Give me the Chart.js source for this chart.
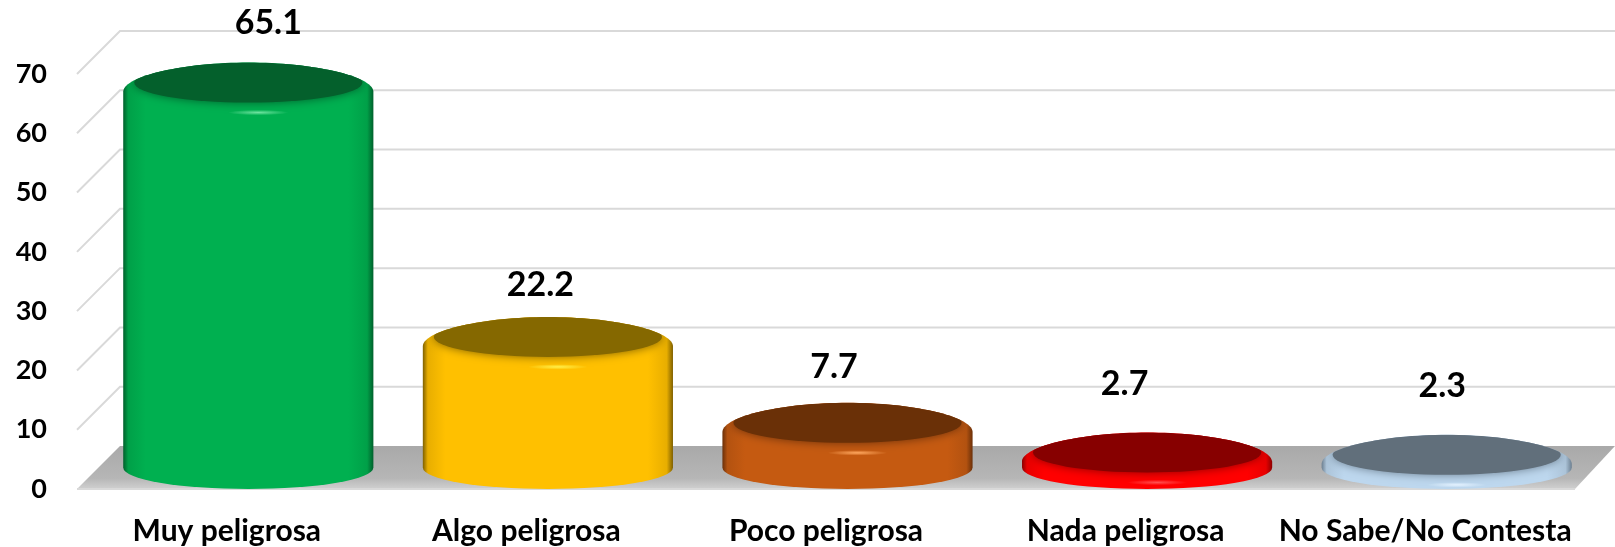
<!DOCTYPE html>
<html><head><meta charset="utf-8">
<style>html,body{margin:0;padding:0;background:#fff}canvas{display:block}</style>
<script src="https://cdn.jsdelivr.net/npm/chart.js@4/dist/chart.umd.min.js"></script>
</head><body><canvas id="c" width="1615" height="547"></canvas>
<script>
const categories = ["Muy peligrosa","Algo peligrosa","Poco peligrosa","Nada peligrosa","No Sabe/No Contesta"];
const values = [65.1,22.2,7.7,2.7,2.3];
const yTicks = [0,10,20,30,40,50,60,70];
const sideColors = ["#00B050","#FFC000","#C55A11","#FF0000","#BDD7EE"];
const topColors = ["#04602C","#856800","#6A3007","#870000","#616F7B"];
const edgeColors = ["#00602C","#7F6000","#6B3009","#8C0000","#6C7F90"];
const midColors = ["#00A048","#E8AE00","#B35210","#E80000","#ACC4D9"];
const glintColors = ["#6FE3A0","#FFF04A","#FFA860","#FF5050","#E4F2FF"];
const labelDx = [41.5,14,8,-1,17];
const labelDy = [-80,-72,-76,-89,-89];

const DEPTH = 43, RY = 21.5;
const FONT = "Lato, Carlito, sans-serif";

Chart.BarElement.prototype.draw = function(ctx){
  const i = this.$context.dataIndex;
  const R = this.width/2, x = this.x + DEPTH/2;
  const c = this.y - RY, b = this.base - RY;
  const side = ctx.createLinearGradient(x-R,0,x+R,0);
  side.addColorStop(0, edgeColors[i]);
  side.addColorStop(0.02, midColors[i]);
  side.addColorStop(0.09, sideColors[i]);
  side.addColorStop(0.9, sideColors[i]);
  side.addColorStop(0.975, midColors[i]);
  side.addColorStop(1, edgeColors[i]);
  ctx.save();
  const body = new Path2D();
  const e = Math.min(c + 10, b);
  body.moveTo(x-R, e);
  body.lineTo(x-R, b);
  body.ellipse(x, b, R, RY, 0, Math.PI, 0, true);
  body.lineTo(x+R, e);
  body.bezierCurveTo(x+R-1, c-6, x+R*0.5, c-19, x, c-19);
  body.bezierCurveTo(x-R*0.5, c-19, x-R+1, c-6, x-R, e);
  body.closePath();
  ctx.fillStyle = side;
  ctx.fill(body);
  ctx.clip(body);
  ctx.save();
  ctx.shadowColor = edgeColors[i];
  ctx.shadowBlur = 10;
  ctx.fillStyle = topColors[i];
  ctx.beginPath();
  ctx.ellipse(x, c+1, R-11, 20, 0, 0, Math.PI*2);
  ctx.fill();
  ctx.restore();
  ctx.save();
  ctx.translate(x+10, c+31);
  ctx.scale(1, 0.09);
  const g = ctx.createRadialGradient(0,0,0,0,0,30);
  g.addColorStop(0, glintColors[i]);
  g.addColorStop(1, glintColors[i]+"00");
  ctx.fillStyle = g;
  ctx.beginPath();
  ctx.arc(0,0,30,0,Math.PI*2);
  ctx.fill();
  ctx.restore();
  ctx.restore();
};

const wallPlugin = {
  id:"wall",
  beforeDatasetsDraw(chart){
    const {ctx} = chart, y = chart.scales.y, x = chart.scales.x;
    const L = x.left, Rt = x.right, y0 = y.getPixelForValue(0);
    ctx.save();
    ctx.strokeStyle = "#D9D9D9";
    ctx.lineWidth = 2;
    yTicks.forEach(t=>{
      if(t===0) return;
      const p = y.getPixelForValue(t);
      ctx.beginPath();
      ctx.moveTo(L,p);
      ctx.lineTo(L+DEPTH,p-DEPTH);
      ctx.lineTo(Rt+DEPTH-3,p-DEPTH);
      ctx.stroke();
    });
    const gr = ctx.createLinearGradient(0,y0-DEPTH,0,y0);
    gr.addColorStop(0,"#A9A9A9");
    gr.addColorStop(0.75,"#B6B6B6");
    gr.addColorStop(1,"#D0D0D0");
    ctx.fillStyle = gr;
    ctx.beginPath();
    ctx.moveTo(L,y0);
    ctx.lineTo(Rt,y0);
    ctx.lineTo(Rt+DEPTH-3,y0-DEPTH);
    ctx.lineTo(L+DEPTH,y0-DEPTH);
    ctx.closePath();
    ctx.fill();
    ctx.beginPath();
    ctx.moveTo(L,y0);
    ctx.lineTo(Rt,y0);
    ctx.stroke();
    ctx.restore();
  }
};
const labelPlugin = {
  id:"vals",
  afterDatasetsDraw(chart){
    const {ctx} = chart;
    ctx.save();
    ctx.font = "bold 34px "+FONT;
    ctx.fillStyle = "#000";
    ctx.textAlign = "center";
    ctx.textBaseline = "middle";
    chart.getDatasetMeta(0).data.forEach((el,i)=>{
      ctx.fillText(values[i].toFixed(1), el.x+labelDx[i], el.y+labelDy[i]);
    });
    ctx.restore();
  }
};

new Chart(document.getElementById("c"),{
  type:"bar",
  data:{labels:categories,datasets:[{data:values,backgroundColor:sideColors,barPercentage:0.835,categoryPercentage:1,clip:false}]},
  options:{
    responsive:false,animation:false,
    layout:{padding:{top:74,right:40,left:0,bottom:0}},
    plugins:{legend:{display:false},tooltip:{enabled:false}},
    scales:{
      x:{
        grid:{display:false,drawTicks:false},border:{display:false},
        ticks:{color:"#000",font:{family:FONT,weight:"bold",size:30},padding:24,maxRotation:0,autoSkip:false},
        afterFit(s){s.height=58;}
      },
      y:{
        min:0,max:70,
        grid:{display:false,drawTicks:false},border:{display:false},
        afterBuildTicks(s){s.ticks=yTicks.map(v=>({value:v}));},
        ticks:{color:"#000",font:{family:FONT,weight:"bold",size:27},padding:30},
        afterFit(s){s.width=77;}
      }
    }
  },
  plugins:[wallPlugin,labelPlugin]
});
</script></body></html>
